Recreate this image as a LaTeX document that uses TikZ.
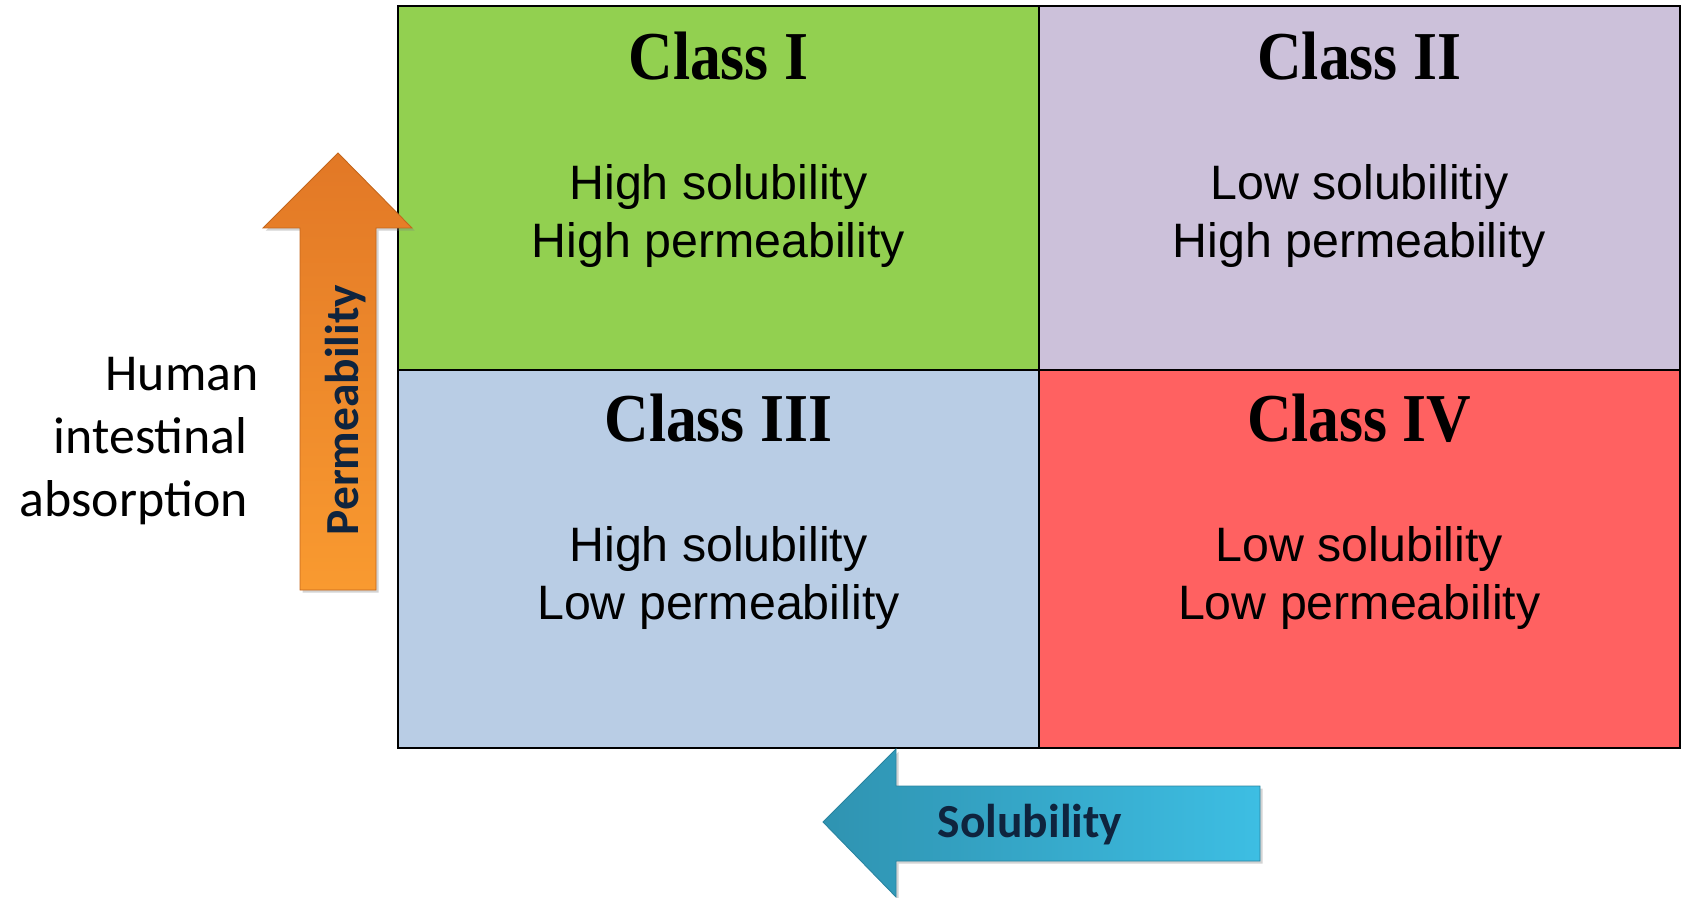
\documentclass[tikz,border=0pt]{standalone}
\usepackage{fontspec}
\setmainfont{Liberation Sans}
\newfontfamily\classfont[FakeStretch=0.9]{Liberation Serif}
\newfontfamily\arrowfont{Carlito}
\usepackage{tikz}
\usetikzlibrary{positioning, shadows}
\definecolor{classone}{HTML}{92D050}
\definecolor{classtwo}{HTML}{CCC1DA}
\definecolor{classthree}{HTML}{B9CDE5}
\definecolor{classfour}{HTML}{FF6161}
\definecolor{navytext}{HTML}{0F243E}
\definecolor{permtop}{HTML}{E27826}
\definecolor{permbottom}{HTML}{F99A30}
\definecolor{permedge}{HTML}{C4661C}
\definecolor{solleft}{HTML}{2F93B1}
\definecolor{solright}{HTML}{3DBEE3}
\definecolor{soledge}{HTML}{2A84A0}
\tikzstyle{cell} = [rectangle, draw=black, line width=1.2pt, outer sep=0pt, inner sep=0pt, minimum width=12.82cm]
\tikzstyle{classtitle} = [font=\classfont\bfseries\fontsize{39}{47}\selectfont, anchor=base, inner sep=0pt]
\tikzstyle{classdesc} = [font=\fontsize{27.5}{33.5}\selectfont, align=center, anchor=base, inner sep=0pt]
\tikzstyle{sidelabel} = [font=\arrowfont\fontsize{29.5}{35.7}\selectfont, align=right, anchor=base east, inner sep=0pt]
\tikzstyle{arrowtext} = [font=\arrowfont\bfseries\fontsize{27}{32}\selectfont, text=navytext, anchor=base, inner sep=0pt]
\tikzstyle{permarrow} = [top color=permtop, bottom color=permbottom, draw=permedge, line width=0.5pt, drop shadow={shadow xshift=1.5pt, shadow yshift=-1.5pt, opacity=0.35}]
\tikzstyle{solarrow} = [left color=solleft, right color=solright, draw=soledge, line width=0.5pt, drop shadow={shadow xshift=1.5pt, shadow yshift=-1.5pt, opacity=0.35}]

\begin{document}
\begin{tikzpicture}[x=0.02cm, y=-0.02cm]
	\useasboundingbox (0,0) rectangle (1683,898);
	\node (ClassI) [cell, fill=classone, minimum height=7.28cm, anchor=north west] at (398,6) {};
	\node (ClassII) [cell, fill=classtwo, minimum height=7.28cm, right = 0cm of ClassI] {};
	\node (ClassIII) [cell, fill=classthree, minimum height=7.56cm, below = 0cm of ClassI] {};
	\node (ClassIV) [cell, fill=classfour, minimum height=7.56cm, right = 0cm of ClassIII] {};
	\node (TitleI) [classtitle] at ([yshift=-1.48cm]ClassI.north) {Class I};
	\node (TitleII) [classtitle] at ([yshift=-1.48cm]ClassII.north) {Class II};
	\node (TitleIII) [classtitle] at ([yshift=-1.44cm]ClassIII.north) {Class III};
	\node (TitleIV) [classtitle] at ([yshift=-1.44cm]ClassIV.north) {Class IV};
	\node (DescI) [classdesc] at ([yshift=-5.04cm]ClassI.north) {High solubility\\High permeability};
	\node (DescII) [classdesc] at ([yshift=-5.04cm]ClassII.north) {Low solubilitiy\\High permeability};
	\node (DescIII) [classdesc] at ([yshift=-5.0cm]ClassIII.north) {High solubility\\Low permeability};
	\node (DescIV) [classdesc] at ([yshift=-5.0cm]ClassIV.north) {Low solubility\\Low permeability};
	\node (Absorption) [sidelabel] at (248,516) {Human\hspace*{-0.22cm}\\intestinal\\absorption};
	\path [permarrow] (338,153) -- (412,228) -- (376,228) -- (376,590) -- (300,590) -- (300,228) -- (263,228) -- cycle;
	\node (PermLabel) [arrowtext, rotate=90] at (358,410) {Permeability};
	\path [solarrow] (823,822) -- (896,749) -- (896,786) -- (1260,786) -- (1260,861) -- (896,861) -- (896,897) -- cycle;
	\node (SolLabel) [arrowtext] at (1030,837) {Solubility};
\end{tikzpicture}
\end{document}
